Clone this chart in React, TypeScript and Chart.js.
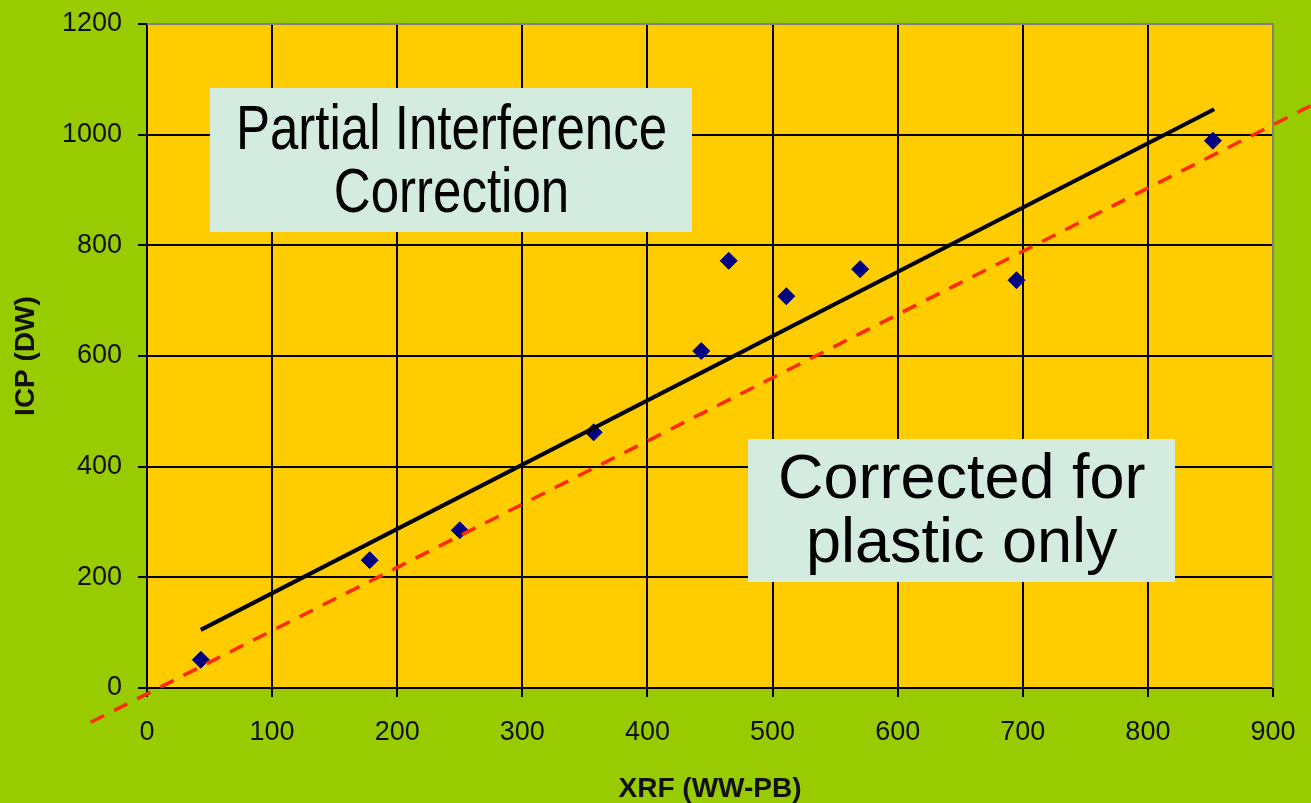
import React, { useEffect, useRef } from "react";
import { Chart, registerables } from "chart.js";

Chart.register(...registerables);

// Measured data (XRF vs ICP)
const xrfValues = [43, 178, 250, 357, 443, 465, 511, 570, 695, 852];
const icpValues = [51, 231, 285, 462, 609, 772, 708, 757, 737, 989];

// Fitted trend line (partial interference correction), endpoints
const trendX = [43, 853];
const trendY = [105, 1046];

// Reference line (corrected for plastic only), endpoints
const refX = [-45, 930];
const refY = [-62, 1052];

const xTicks = [0, 100, 200, 300, 400, 500, 600, 700, 800, 900];
const yTicks = [0, 200, 400, 600, 800, 1000, 1200];

const xTitle = "XRF (WW-PB)";
const yTitle = "ICP (DW)";
const box1Lines = ["Partial Interference", "Correction"];
const box2Lines = ["Corrected for", "plastic only"];

const zip = (xs: number[], ys: number[]) => xs.map((x, i) => ({ x, y: ys[i] }));

const decorPlugin = {
  id: "decor",
  beforeDraw(chart: any) {
    const { ctx, chartArea } = chart;
    ctx.save();
    ctx.fillStyle = "#ffcc00";
    ctx.fillRect(chartArea.left, chartArea.top, chartArea.right - chartArea.left, chartArea.bottom - chartArea.top);
    ctx.restore();
  },
  beforeDatasetsDraw(chart: any) {
    const { ctx, chartArea } = chart;
    ctx.save();
    ctx.strokeStyle = "#808080";
    ctx.lineWidth = 2;
    ctx.beginPath();
    ctx.moveTo(chartArea.left, chartArea.top);
    ctx.lineTo(chartArea.right, chartArea.top);
    ctx.lineTo(chartArea.right, chartArea.bottom);
    ctx.stroke();

    const drawBox = (
      x0: number, y0: number, x1: number, y1: number,
      lines: string[], cx: number, baselines: number[], sx: number
    ) => {
      ctx.fillStyle = "#d4ebe0";
      ctx.fillRect(x0, y0, x1 - x0, y1 - y0);
      ctx.fillStyle = "#000";
      ctx.font = "63px 'Liberation Sans', Arial, sans-serif";
      ctx.textAlign = "center";
      ctx.textBaseline = "alphabetic";
      lines.forEach((t, i) => {
        ctx.save();
        ctx.translate(cx, baselines[i]);
        ctx.scale(sx, 1);
        ctx.fillText(t, 0, 0);
        ctx.restore();
      });
    };
    drawBox(210, 88, 692, 232, box1Lines, 451.5, [148.5, 212], 0.81);
    drawBox(748, 439, 1175, 582, box2Lines, 961.7, [497.5, 562], 1);
    ctx.restore();
  },
};

const zeroPad = (s: any) => {
  s.paddingTop = 0;
  s.paddingBottom = 0;
  s.paddingLeft = 0;
  s.paddingRight = 0;
};

export default function App() {
  const ref = useRef<HTMLCanvasElement | null>(null);
  useEffect(() => {
    document.body.style.margin = "0";
    const canvas = ref.current!;
    const chart = new Chart(canvas, {
      type: "scatter",
      data: {
        datasets: [
          {
            data: zip(refX, refY),
            showLine: true,
            borderColor: "#ff2a00",
            borderWidth: 3.5,
            borderDash: [15, 11],
            pointRadius: 0,
            clip: false as any,
          },
          {
            data: zip(trendX, trendY),
            showLine: true,
            borderColor: "#000000",
            borderWidth: 4,
            pointRadius: 0,
          },
          {
            data: zip(xrfValues, icpValues),
            showLine: false,
            pointStyle: "rectRot",
            pointRadius: 8.5,
            pointBorderWidth: 1,
            backgroundColor: "#000080",
            borderColor: "#000080",
          },
        ],
      },
      options: {
        responsive: false,
        animation: false,
        devicePixelRatio: 1,
        layout: { padding: { top: 24, right: 38, left: 0, bottom: 0 } },
        plugins: { legend: { display: false }, tooltip: { enabled: false } },
        scales: {
          x: {
            type: "linear",
            min: 0,
            max: 900,
            afterFit: (s: any) => { s.height = 115; zeroPad(s); },
            afterBuildTicks: (s: any) => { s.ticks = xTicks.map((v) => ({ value: v })); },
            grid: { color: "#000", lineWidth: 2, tickLength: 9, drawTicks: true },
            border: { display: true, color: "#000", width: 2 },
            ticks: {
              color: "#111",
              font: { family: "'Liberation Sans', Arial, sans-serif", size: 27 },
              padding: 19,
              maxRotation: 0,
              autoSkip: false,
              callback: (v: any) => String(v),
            },
            title: {
              display: true,
              text: xTitle,
              color: "#111",
              font: { family: "'Liberation Sans', Arial, sans-serif", size: 28, weight: "bold", lineHeight: 1 },
              padding: { top: 0, bottom: 0 },
            },
          },
          y: {
            type: "linear",
            min: 0,
            max: 1200,
            afterFit: (s: any) => { s.width = 147; zeroPad(s); },
            afterBuildTicks: (s: any) => { s.ticks = yTicks.map((v) => ({ value: v })); },
            grid: { color: "#000", lineWidth: 2, tickLength: 9, drawTicks: true },
            border: { display: true, color: "#000", width: 2 },
            ticks: {
              color: "#111",
              font: { family: "'Liberation Sans', Arial, sans-serif", size: 27 },
              padding: 16,
              autoSkip: false,
              callback: (v: any) => String(v),
            },
            title: {
              display: true,
              text: yTitle,
              color: "#111",
              font: { family: "'Liberation Sans', Arial, sans-serif", size: 28, weight: "bold", lineHeight: 1 },
              padding: { top: 12, bottom: 0 },
            },
          },
        },
      },
      plugins: [decorPlugin],
    } as any);
    return () => chart.destroy();
  }, []);
  return (
    <div style={{ position: "fixed", left: 0, top: 0, width: 1311, height: 803, background: "#99cc00" }}>
      <canvas ref={ref} width={1311} height={803} style={{ display: "block" }} />
    </div>
  );
}
